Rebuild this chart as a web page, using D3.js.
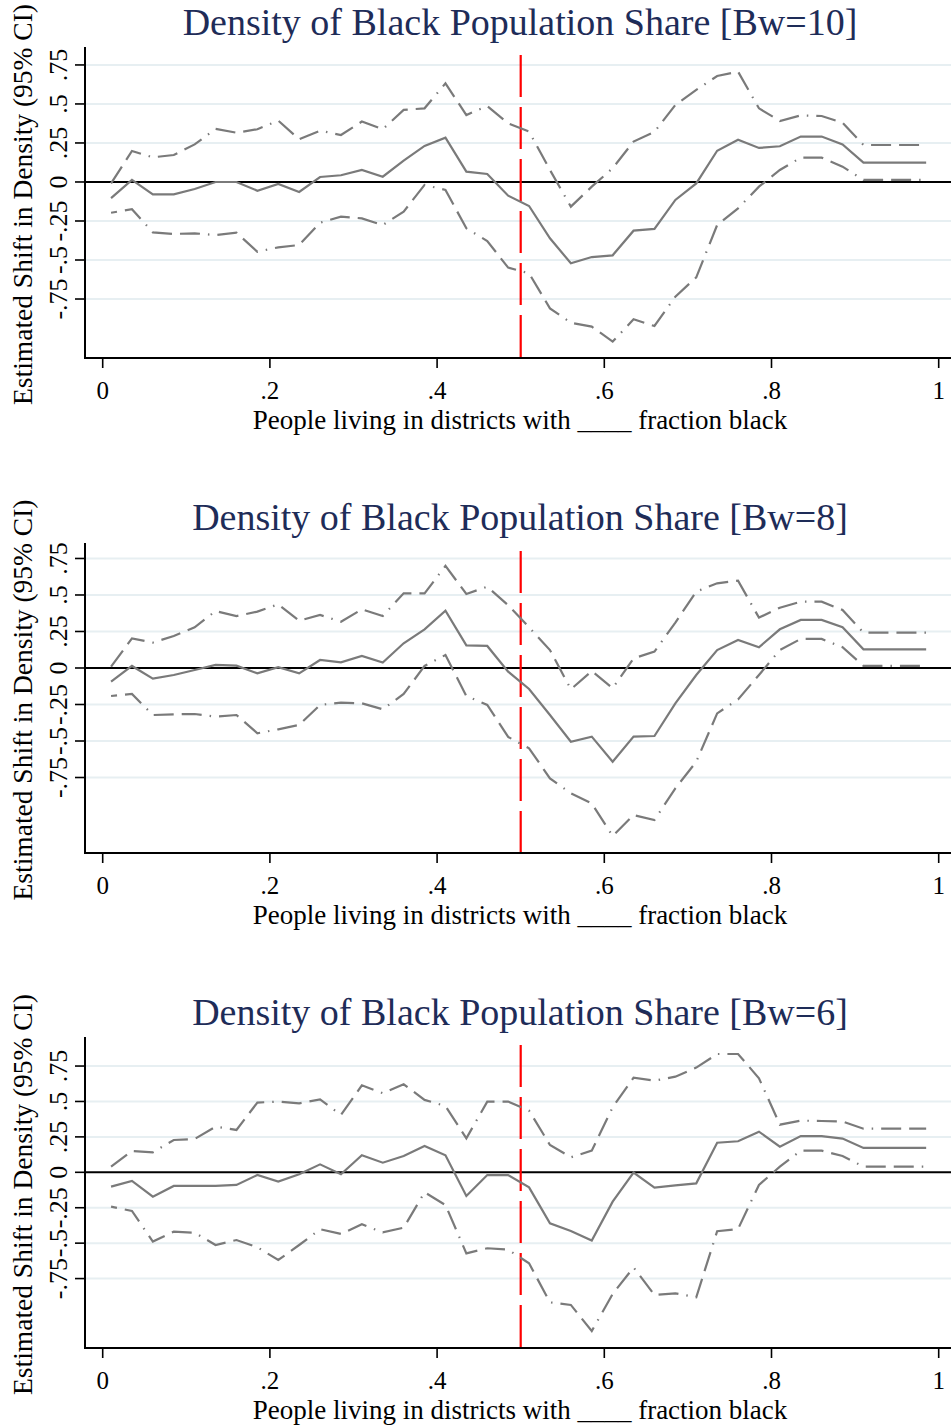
<!DOCTYPE html>
<html>
<head>
<meta charset="utf-8">
<script src="https://cdn.jsdelivr.net/npm/d3@7"></script>
<style>
  html, body { margin: 0; padding: 0; background: #ffffff; }
  svg { display: block; }
  text { font-family: "Liberation Serif", "Times New Roman", serif; }
</style>
</head>
<body>
<svg id="chart" width="951" height="1426"></svg>
<script>
// Evaluation points (fraction black in district)
const xPoints = [0.010, 0.035, 0.060, 0.085, 0.110, 0.135, 0.160, 0.185, 0.210, 0.235,
                 0.260, 0.285, 0.310, 0.335, 0.360, 0.385, 0.410, 0.435, 0.460, 0.485,
                 0.510, 0.535, 0.560, 0.585, 0.610, 0.635, 0.660, 0.685, 0.710, 0.735,
                 0.760, 0.785, 0.810, 0.835, 0.860, 0.885, 0.910, 0.935, 0.960, 0.985];

// Bandwidth 10
const bw10Est = [-0.103, 0.013, -0.079, -0.079, -0.045, 0.000, 0.000, -0.056, -0.013, -0.064,
                 0.032, 0.043, 0.077, 0.034, 0.137, 0.231, 0.284, 0.066, 0.051, -0.088,
                 -0.154, -0.361, -0.521, -0.481, -0.470, -0.312, -0.301, -0.115, -0.009, 0.200,
                 0.271, 0.218, 0.229, 0.291, 0.291, 0.241, 0.124, 0.124, 0.124, 0.124];
const bw10Upper = [-0.009, 0.199, 0.158, 0.173, 0.241, 0.340, 0.316, 0.338, 0.393, 0.274,
                   0.329, 0.301, 0.387, 0.338, 0.462, 0.472, 0.632, 0.429, 0.487, 0.376,
                   0.323, 0.077, -0.158, -0.030, 0.088, 0.259, 0.321, 0.494, 0.590, 0.679,
                   0.707, 0.472, 0.391, 0.427, 0.423, 0.380, 0.237, 0.237, 0.237, 0.237];
const bw10Lower = [-0.197, -0.175, -0.323, -0.333, -0.329, -0.340, -0.325, -0.447, -0.419, -0.404,
                   -0.261, -0.222, -0.233, -0.276, -0.190, -0.019, -0.051, -0.297, -0.378, -0.549,
                   -0.585, -0.810, -0.902, -0.927, -1.023, -0.880, -0.923, -0.735, -0.611, -0.276,
                   -0.169, -0.030, 0.077, 0.156, 0.156, 0.098, 0.013, 0.013, 0.013, 0.013];

// Bandwidth 8
const bw8Est = [-0.094, 0.014, -0.073, -0.048, -0.014, 0.021, 0.016, -0.037, 0.005, -0.037,
                0.055, 0.039, 0.082, 0.037, 0.169, 0.265, 0.393, 0.155, 0.151, -0.025,
                -0.144, -0.322, -0.505, -0.470, -0.642, -0.470, -0.466, -0.242, -0.048, 0.123,
                0.192, 0.142, 0.265, 0.329, 0.329, 0.279, 0.128, 0.128, 0.128, 0.128];
const bw8Upper = [0.009, 0.203, 0.174, 0.219, 0.279, 0.390, 0.356, 0.386, 0.436, 0.324,
                  0.363, 0.317, 0.402, 0.356, 0.511, 0.511, 0.699, 0.507, 0.557, 0.430,
                  0.279, 0.123, -0.146, -0.021, -0.139, 0.066, 0.112, 0.311, 0.523, 0.580,
                  0.598, 0.345, 0.413, 0.454, 0.454, 0.397, 0.242, 0.242, 0.242, 0.242];
const bw8Lower = [-0.192, -0.178, -0.322, -0.317, -0.315, -0.333, -0.322, -0.447, -0.420, -0.390,
                  -0.253, -0.237, -0.242, -0.283, -0.178, 0.014, 0.089, -0.192, -0.253, -0.472,
                  -0.550, -0.756, -0.858, -0.927, -1.151, -1.007, -1.041, -0.824, -0.642, -0.311,
                  -0.215, -0.048, 0.123, 0.199, 0.199, 0.142, 0.014, 0.014, 0.014, 0.014];

// Bandwidth 6
const bw6Est = [-0.101, -0.061, -0.172, -0.096, -0.096, -0.096, -0.089, -0.019, -0.066, -0.014,
                0.056, -0.014, 0.120, 0.068, 0.115, 0.186, 0.120, -0.167, -0.019, -0.020,
                -0.106, -0.360, -0.414, -0.482, -0.207, -0.002, -0.108, -0.092, -0.078, 0.209,
                0.219, 0.287, 0.181, 0.256, 0.256, 0.238, 0.172, 0.172, 0.172, 0.172];
const bw6Upper = [0.040, 0.151, 0.141, 0.228, 0.235, 0.322, 0.299, 0.492, 0.499, 0.487,
                  0.515, 0.405, 0.614, 0.558, 0.621, 0.511, 0.468, 0.240, 0.499, 0.499,
                  0.435, 0.193, 0.106, 0.153, 0.459, 0.668, 0.647, 0.675, 0.739, 0.835,
                  0.835, 0.664, 0.336, 0.365, 0.362, 0.358, 0.308, 0.308, 0.308, 0.308];
const bw6Lower = [-0.242, -0.273, -0.489, -0.419, -0.426, -0.513, -0.478, -0.529, -0.619, -0.513,
                  -0.402, -0.435, -0.367, -0.424, -0.391, -0.141, -0.231, -0.572, -0.536, -0.546,
                  -0.642, -0.918, -0.936, -1.120, -0.859, -0.671, -0.866, -0.854, -0.882, -0.416,
                  -0.400, -0.089, 0.040, 0.153, 0.153, 0.115, 0.040, 0.040, 0.040, 0.040];

// Axis ticks
const xTicks = [0, 0.2, 0.4, 0.6, 0.8, 1];
const xTickLabels = ["0", ".2", ".4", ".6", ".8", "1"];
const yTicks = [-0.75, -0.5, -0.25, 0, 0.25, 0.5, 0.75];
const yTickLabels = ["-.75", "-.5", "-.25", "0", ".25", ".5", ".75"];
const cutoff = 0.5;

const titles = ["Density of Black Population Share [Bw=10]",
                "Density of Black Population Share [Bw=8]",
                "Density of Black Population Share [Bw=6]"];
const yAxisTitle = "Estimated Shift in Density (95% CI)";
const xAxisTitle = "People living in districts with ____ fraction black";

// Panel geometry: pixel top/bottom of the plot region and the y range it shows
const panels = [
  { title: titles[0], est: bw10Est, upper: bw10Upper, lower: bw10Lower,
    top: 47, bottom: 358, yLo: -1.128, yHi: 0.865, titleY: 35 },
  { title: titles[1], est: bw8Est, upper: bw8Upper, lower: bw8Lower,
    top: 543, bottom: 853, yLo: -1.267, yHi: 0.856, titleY: 530 },
  { title: titles[2], est: bw6Est, upper: bw6Upper, lower: bw6Lower,
    top: 1037, bottom: 1348, yLo: -1.240, yHi: 0.955, titleY: 1025 }
];

const svg = d3.select("#chart");
const axisX = 85;
const rightEdge = 951;
const x = d3.scaleLinear().domain([0, 1]).range([102.7, 938.7]);

const gridColor = "#e7eff2";
const lineColor = "#7a7a7a";
const titleColor = "#1e2c58";
const ciDash = "20,8,20,8,1.5,8";

panels.forEach(p => {
  const g = svg.append("g");
  const y = d3.scaleLinear().domain([p.yLo, p.yHi]).range([p.bottom, p.top]);

  // Horizontal grid lines
  g.selectAll("line.grid").data(yTicks.filter(t => t !== 0)).enter()
    .append("line")
    .attr("x1", axisX).attr("x2", rightEdge)
    .attr("y1", d => y(d)).attr("y2", d => y(d))
    .attr("stroke", gridColor).attr("stroke-width", 2);

  // Zero reference line
  g.append("line")
    .attr("x1", axisX).attr("x2", rightEdge)
    .attr("y1", y(0)).attr("y2", y(0))
    .attr("stroke", "#000").attr("stroke-width", 2);

  // Cutoff marker at one half
  g.append("line")
    .attr("x1", x(cutoff)).attr("x2", x(cutoff))
    .attr("y1", p.top + 8).attr("y2", p.bottom)
    .attr("stroke", "#ff0000").attr("stroke-width", 2.2)
    .attr("stroke-dasharray", "42,10");

  const line = (vals) => d3.line()
    .x((d, i) => x(xPoints[i]))
    .y(d => y(d))(vals);

  // Confidence bands
  g.append("path").attr("d", line(p.upper))
    .attr("fill", "none").attr("stroke", lineColor).attr("stroke-width", 2.2)
    .attr("stroke-dasharray", ciDash);
  g.append("path").attr("d", line(p.lower))
    .attr("fill", "none").attr("stroke", lineColor).attr("stroke-width", 2.2)
    .attr("stroke-dasharray", ciDash).attr("stroke-dashoffset", 14);
  // Point estimate
  g.append("path").attr("d", line(p.est))
    .attr("fill", "none").attr("stroke", lineColor).attr("stroke-width", 2.2);

  // Axes
  g.append("line")
    .attr("x1", axisX).attr("x2", axisX)
    .attr("y1", p.top).attr("y2", p.bottom + 1)
    .attr("stroke", "#000").attr("stroke-width", 2);
  g.append("line")
    .attr("x1", axisX - 1).attr("x2", rightEdge)
    .attr("y1", p.bottom).attr("y2", p.bottom)
    .attr("stroke", "#000").attr("stroke-width", 2);

  // Y ticks and rotated labels
  g.selectAll("line.ytick").data(yTicks).enter()
    .append("line")
    .attr("x1", axisX - 10).attr("x2", axisX)
    .attr("y1", d => y(d)).attr("y2", d => y(d))
    .attr("stroke", "#000").attr("stroke-width", 1.6);
  g.selectAll("text.ytl").data(yTicks).enter()
    .append("text")
    .attr("transform", d => `translate(67,${y(d)}) rotate(-90)`)
    .attr("text-anchor", "middle")
    .attr("font-size", 26)
    .attr("fill", "#000")
    .text((d, i) => yTickLabels[i]);

  // X ticks and labels
  g.selectAll("line.xtick").data(xTicks).enter()
    .append("line")
    .attr("x1", d => x(d)).attr("x2", d => x(d))
    .attr("y1", p.bottom).attr("y2", p.bottom + 10)
    .attr("stroke", "#000").attr("stroke-width", 1.6);
  g.selectAll("text.xtl").data(xTicks).enter()
    .append("text")
    .attr("x", d => x(d)).attr("y", p.bottom + 41)
    .attr("text-anchor", "middle")
    .attr("font-size", 25)
    .attr("fill", "#000")
    .text((d, i) => xTickLabels[i]);

  // Axis titles
  g.append("text")
    .attr("x", 520).attr("y", p.bottom + 71)
    .attr("text-anchor", "middle")
    .attr("font-size", 27)
    .attr("fill", "#000")
    .text(xAxisTitle);
  g.append("text")
    .attr("transform", `translate(32,${(p.top + p.bottom) / 2 + 2}) rotate(-90)`)
    .attr("text-anchor", "middle")
    .attr("font-size", 27.5)
    .attr("fill", "#000")
    .text(yAxisTitle);

  // Panel title
  g.append("text")
    .attr("x", 520).attr("y", p.titleY)
    .attr("text-anchor", "middle")
    .attr("font-size", 38)
    .attr("fill", titleColor)
    .text(p.title);
});
</script>
</body>
</html>
